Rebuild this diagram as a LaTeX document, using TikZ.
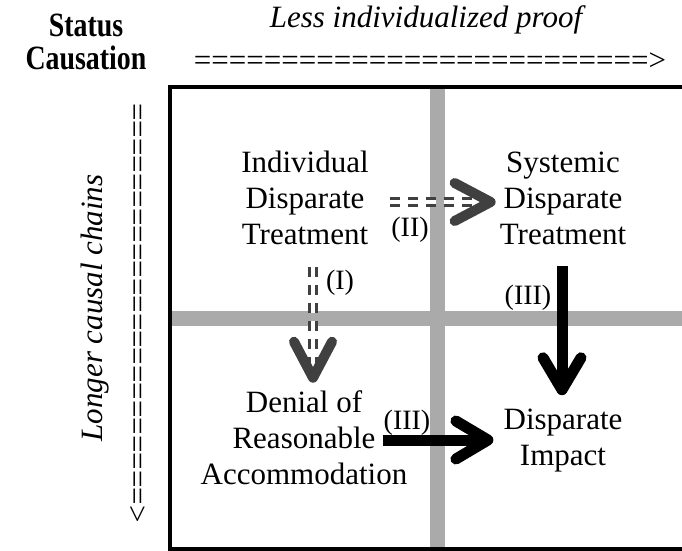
\documentclass[tikz,border=0pt]{standalone}
\usepackage{fontspec}
\setmainfont{Liberation Serif}
\usetikzlibrary{arrows.meta}
\usetikzlibrary{calc}

\definecolor{barcol}{RGB}{170,170,170}
\definecolor{arrcol}{RGB}{64,64,64}

\begin{document}
\begin{tikzpicture}[x=1pt,y=-1pt]
\tikzset{quad/.style={align=center, inner sep=0pt, font=\fontsize{31}{36}\selectfont}}
\tikzset{lbl/.style={inner sep=0pt, font=\fontsize{28}{30}\selectfont}}
\tikzset{bar/.style={draw=barcol, line width=15pt}}
\tikzset{dasharrow/.style={draw=arrcol, line width=3.3pt, double=white, double distance=3.3pt, dash pattern=on 10pt off 8pt}}
\tikzset{dashhead/.style={draw=arrcol, line width=10pt, line cap=round, line join=round}}
\tikzset{solidarrow/.style={draw=black, line width=11pt, -{Straight Barb[length=32pt,width=38pt,line cap=round,line join=round]}}}
\clip (0,0) rectangle (682,550);
% axes
\node[xscale=0.82, font=\fontsize{34}{33}\selectfont\bfseries, align=center] (status) at (86,42) {Status\\Causation};
\node[font=\fontsize{31}{36}\selectfont\itshape] (lessproof) at (426,20) {Less individualized proof};
\node[font=\fontsize{31}{36}\selectfont] (harrow) at (430,62) {==========================>};
\node[rotate=90, font=\fontsize{31}{36}\selectfont\itshape] (chains) at (95,308) {Longer causal chains};
\node[rotate=-90, font=\fontsize{31}{36}\selectfont] (varrow) at (136,313) {=======================>};
% grid
\draw[bar] (437,87) -- (437,550);
\draw[bar] (170,318) -- (682,318);
\draw[line width=4pt] (700,87) -- (170,87) -- (170,549) -- (700,549);
% quadrants
\node[quad] (idt) at (305,198) {Individual\\Disparate\\Treatment};
\node[quad] (sdt) at (563,198) {Systemic\\Disparate\\Treatment};
\node[quad] (dra) at (304,438) {Denial of\\Reasonable\\Accommodation};
\node[quad] (di) at (563,441) {Disparate\\Impact};
% (I) and (II)
\coordinate (tipI) at ($(dra.north)+(9,-13)$);
\coordinate (tipII) at ($(sdt.west)+(-9,4)$);
\draw[dasharrow] ([xshift=8pt,yshift=-22pt]idt.south) -- ([yshift=12pt]tipI);
\draw[dashhead] ($(tipI)+(-19,-36)$) -- (tipI) -- ($(tipI)+(19,-36)$);
\draw[dasharrow] ([xshift=21pt,yshift=-4pt]idt.east) -- ([xshift=-14pt]tipII);
\draw[dashhead] ($(tipII)+(-36,-19)$) -- (tipII) -- ($(tipII)+(-36,19)$);
% (III)
\draw[solidarrow] ([xshift=-1pt,yshift=-21pt]sdt.south) -- ([xshift=-1pt,yshift=14pt]di.north);
\draw[solidarrow] ([xshift=-25pt,yshift=-2pt]dra.east) -- ([xshift=-10pt,yshift=1pt]di.west);
% labels
\node[lbl] (labI) at (340,283) {(I)};
\node[lbl] (labII) at (410,230) {(II)};
\node[lbl] (labIIIa) at (528,298) {(III)};
\node[lbl] (labIIIb) at (407,423) {(III)};
\end{tikzpicture}
\end{document}
